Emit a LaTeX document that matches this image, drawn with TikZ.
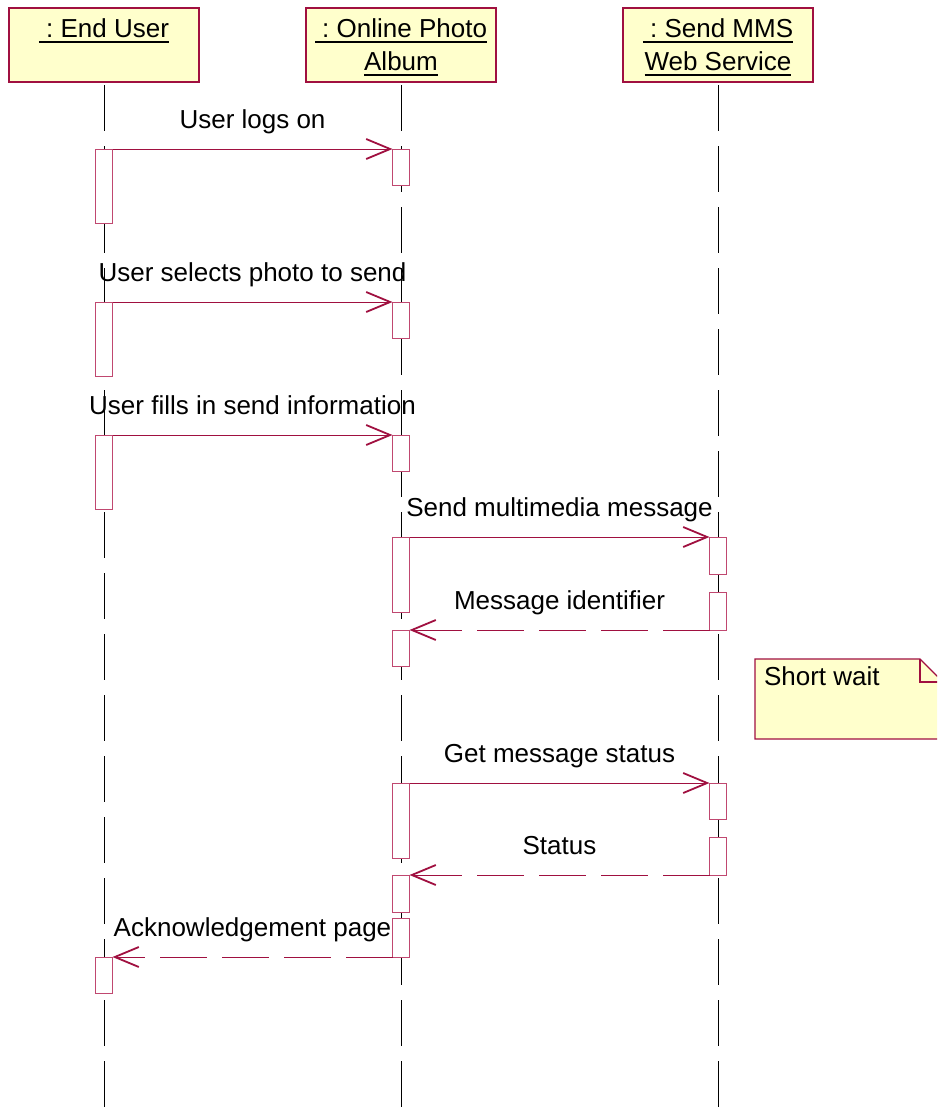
\documentclass[tikz,border=0pt]{standalone}
\usepackage{fontspec}
\setmainfont{Liberation Sans}
\frenchspacing
\usetikzlibrary{arrows.meta,calc}
\definecolor{umlred}{RGB}{160,16,64}
\definecolor{boxred}{RGB}{192,72,112}
\definecolor{noteyel}{RGB}{255,255,204}
\begin{document}
\begin{tikzpicture}[x=1pt,y=-1pt,
  every node/.style={font=\fontsize{26}{31}\selectfont\frenchspacing, inner sep=0pt, outer sep=0pt},
  header/.style={draw=umlred, line width=1.4pt, fill=noteyel, minimum width=190pt, minimum height=74pt, anchor=north west},
  htext/.style={anchor=base},
  uline/.style={line width=1.8pt, black},
  life/.style={line width=1pt, black, dash pattern=on 46pt off 15pt},
  actbox/.style={draw=boxred, line width=1pt, fill=white, minimum width=17pt, anchor=north},
  msg/.style={draw=umlred, line width=1pt, -{Straight Barb[length=24pt,width=20pt,line width=1.8pt]}},
  reply/.style={msg, dash pattern=on 47pt off 15pt},
  lbl/.style={anchor=base, yshift=21pt, text=black},
]
\useasboundingbox (0,0) rectangle (937,1111);
\clip (0,0) rectangle (937,1111);

% headers
\node[header] (eu) at (9,8) {};
\node[header] (al) at (306,8) {};
\node[header] (ms) at (623,8) {};

\node[htext] (eut1) at (104,37) {\ : End User};
\node[htext] (alt1) at (401,37) {\ : Online Photo\ };
\node[htext] (alt2) at (401,70) {Album};
\node[htext] (mst1) at (718,37) {\ : Send MMS\ };
\node[htext] (mst2) at (718,70) {Web Service};
\foreach \t in {eut1,alt1,alt2,mst1,mst2}{
  \draw[uline] ([yshift=-5pt]\t.base west) -- ([yshift=-5pt]\t.base east);
}

% lifelines
\coordinate (eubot) at (104,1115);
\coordinate (albot) at (401,1115);
\coordinate (msbot) at (718,1115);
\draw[life] ([yshift=-3pt]eu.south) -- (eubot);
\draw[life] ([yshift=-3pt]al.south) -- (albot);
\draw[life] ([yshift=-3pt]ms.south) -- (msbot);

% activation boxes
\node[actbox, minimum height=74pt] (eu1) at (104,149) {};
\node[actbox, minimum height=74pt] (eu2) at (104,302) {};
\node[actbox, minimum height=74pt] (eu3) at (104,435) {};
\node[actbox, minimum height=36pt] (eu4) at (104,957) {};

\node[actbox, minimum height=36pt] (al1) at (401,149) {};
\node[actbox, minimum height=36pt] (al2) at (401,302) {};
\node[actbox, minimum height=36pt] (al3) at (401,435) {};
\node[actbox, minimum height=75pt] (al4) at (401,537) {};
\node[actbox, minimum height=36pt] (al5) at (401,630) {};
\node[actbox, minimum height=75pt] (al6) at (401,783) {};
\node[actbox, minimum height=37pt] (al7) at (401,875) {};
\node[actbox, minimum height=39pt] (al8) at (401,918) {};

\node[actbox, minimum height=37pt] (ms1) at (718,537) {};
\node[actbox, minimum height=38pt] (ms2) at (718,592) {};
\node[actbox, minimum height=36pt] (ms3) at (718,783) {};
\node[actbox, minimum height=38pt] (ms4) at (718,837) {};

% messages
\draw[msg] (eu1.north east) -- node[lbl] (l1) {User logs on} (al1.north west);
\draw[msg] (eu2.north east) -- node[lbl] (l2) {User selects photo to send} (al2.north west);
\draw[msg] (eu3.north east) -- node[lbl] (l3) {User fills in send information} (al3.north west);
\draw[msg] (al4.north east) -- node[lbl] (l4) {Send multimedia message} (ms1.north west);
\draw[reply] (ms2.south west) -- node[lbl] (l5) {Message identifier} (al5.north east);
\draw[msg] (al6.north east) -- node[lbl] (l6) {Get message status} (ms3.north west);
\draw[reply] (ms4.south west) -- node[lbl] (l7) {Status} (al7.north east);
\draw[reply] (al8.south west) -- node[lbl] (l8) {Acknowledgement page} (eu4.north east);

% note
\filldraw[draw=umlred, fill=noteyel, line width=1.4pt]
  (755,659) -- (920,659) -- (943,682) -- (943,739) -- (755,739) -- cycle;
\draw[draw=umlred, line width=1.4pt] (920,659) -- (920,682) -- (943,682);
\node[anchor=base west] (note) at (764,685) {Short wait};
\end{tikzpicture}
\end{document}
